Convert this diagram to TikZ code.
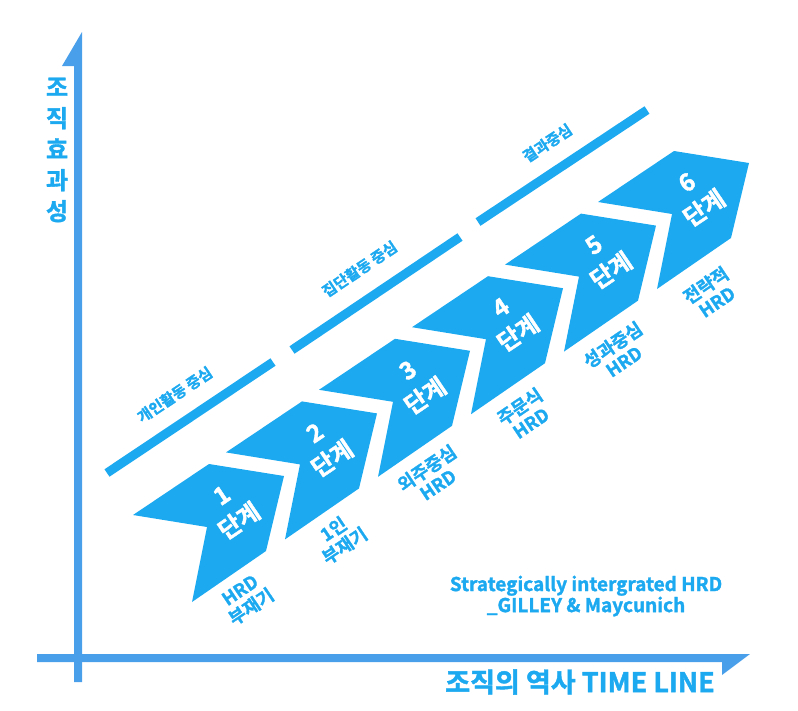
\documentclass[tikz,border=0pt]{standalone}
\usepackage{fontspec}
\newfontfamily\krfont{Noto Sans CJK KR}[BoldFont={Noto Sans CJK KR Bold}, BoldFeatures={FakeBold=1.6}]
\definecolor{stageblue}{HTML}{1CA9F0}
\definecolor{axisblue}{HTML}{4A9FEB}

\begin{document}
\begin{tikzpicture}[x=1pt, y=-1pt,
    stage/.style={fill=stageblue},
    stagetext/.style={text=white, align=center, rotate=34, inner sep=0,
        font=\krfont\bfseries\fontsize{24}{31}\selectfont},
    stagelabel/.style={text=stageblue, align=center, rotate=34, inner sep=0,
        font=\krfont\bfseries\fontsize{18}{20}\selectfont},
    band/.style={draw=stageblue, line width=9pt},
    bandtext/.style={text=stageblue, inner sep=0,
        font=\krfont\bfseries\fontsize{15}{15}\selectfont},
    axistext/.style={text=stageblue, align=center, inner sep=0,
        font=\krfont\bfseries\fontsize{24}{31}\selectfont}]

    \useasboundingbox (0,0) rectangle (798,710);

    % Axes
    \coordinate (ybot) at (74,682);
    \coordinate (ytip) at (82,32);
    \coordinate (xbot) at (37,662);
    \coordinate (xtip) at (750,654);
    \fill[axisblue] (ybot) -- ++(8,0) -- (ytip) -- ++(-20,34) -- ++(12,0) -- cycle;
    \fill[axisblue] (xbot) -- ++(0,-8) -- (xtip) -- ++(-28,21) -- ++(0,-13) -- cycle;

    \node[axistext] (ylab) at (57,150) {조\\직\\효\\과\\성};
    \node[axistext, font=\krfont\bfseries\fontsize{27}{27}\selectfont]
    (xlab) at (580,682) {조직의 역사 TIME LINE};

    % Bands
    \coordinate (b1s) at (107,473);
    \coordinate (b1e) at (273,362);
    \coordinate (b2s) at (292,350);
    \coordinate (b2e) at (460,237);
    \coordinate (b3s) at (478,222);
    \coordinate (b3e) at (647,110);
    \draw[band] (b1s) -- (b1e)
    node[bandtext, midway, sloped, above=16pt] (band1) {개인활동 중심};
    \draw[band] (b2s) -- (b2e)
    node[bandtext, midway, sloped, above=18pt] (band2) {집단활동 중심};
    \draw[band] (b3s) -- (b3e)
    node[bandtext, midway, sloped, above=16pt] (band3) {결과중심};

    % Stages
    \coordinate (s1) at (209,464);
    \coordinate (s2) at (302,401.4);
    \coordinate (s3) at (395,338.8);
    \coordinate (s4) at (488,276.2);
    \coordinate (s5) at (581,213.6);
    \coordinate (s6) at (674,151);

    \fill[stage] (s1) -- ++(75,12) -- ++(-18,75) -- ++(-74,51) -- ++(15,-75) -- ++(-74,-12) -- cycle;
    \fill[stage] (s2) -- ++(75,12) -- ++(-18,75) -- ++(-74,51) -- ++(15,-75) -- ++(-74,-12) -- cycle;
    \fill[stage] (s3) -- ++(75,12) -- ++(-18,75) -- ++(-74,51) -- ++(15,-75) -- ++(-74,-12) -- cycle;
    \fill[stage] (s4) -- ++(75,12) -- ++(-18,75) -- ++(-74,51) -- ++(15,-75) -- ++(-74,-12) -- cycle;
    \fill[stage] (s5) -- ++(75,12) -- ++(-18,75) -- ++(-74,51) -- ++(15,-75) -- ++(-74,-12) -- cycle;
    \fill[stage] (s6) -- ++(75,12) -- ++(-18,75) -- ++(-74,51) -- ++(15,-75) -- ++(-74,-12) -- cycle;

    \node[stagetext] (t1) at ([shift={(22,45)}]s1) {1\\단계};
    \node[stagetext] (t2) at ([shift={(22,45)}]s2) {2\\단계};
    \node[stagetext] (t3) at ([shift={(22,45)}]s3) {3\\단계};
    \node[stagetext] (t4) at ([shift={(22,45)}]s4) {4\\단계};
    \node[stagetext] (t5) at ([shift={(22,45)}]s5) {5\\단계};
    \node[stagetext] (t6) at ([shift={(22,45)}]s6) {6\\단계};

    \node[stagelabel] (l1) at ([shift={(37,135)}]s1) {HRD\\부재기};
    \node[stagelabel] (l2) at ([shift={(37,136)}]s2) {1인\\부재기};
    \node[stagelabel] (l3) at ([shift={(37,137)}]s3) {외주중심\\HRD};
    \node[stagelabel] (l4) at ([shift={(37,138)}]s4) {주문식\\HRD};
    \node[stagelabel] (l5) at ([shift={(37,139)}]s5) {성과중심\\HRD};
    \node[stagelabel] (l6) at ([shift={(37,142)}]s6) {전략적\\HRD};

    % Source
    \node[stagelabel, rotate=-34, font=\krfont\bfseries\fontsize{19}{18}\selectfont]
    (src) at (586,596) {Strategically intergrated HRD\\\_GILLEY \& Maycunich};

\end{tikzpicture}
\end{document}
